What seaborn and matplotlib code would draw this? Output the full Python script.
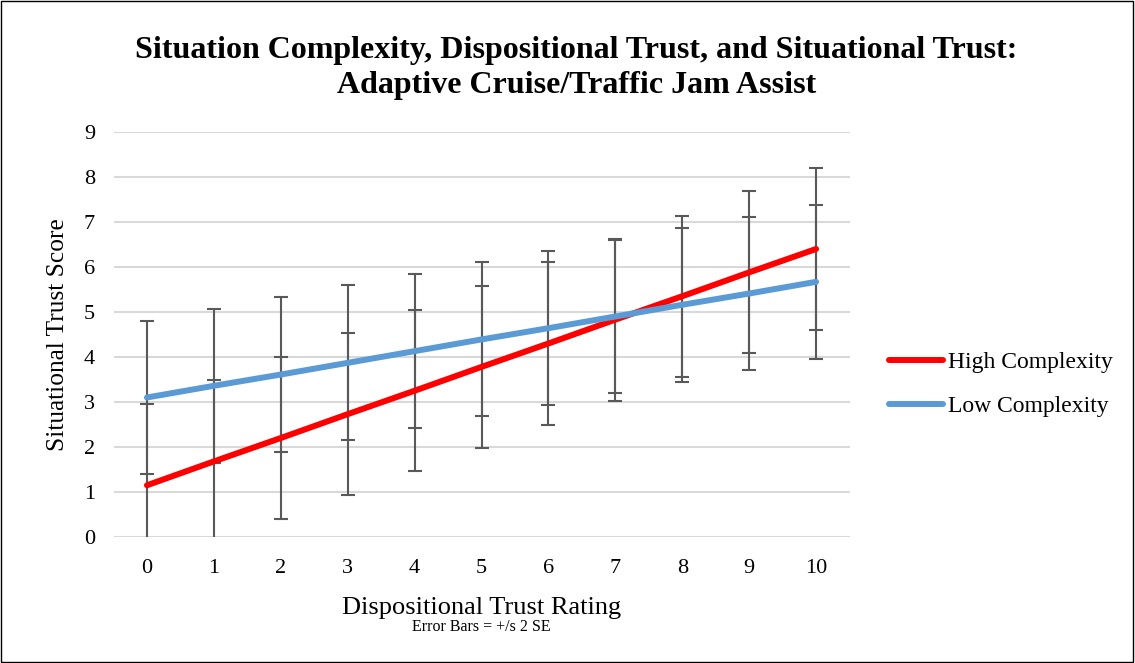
import numpy as np
import pandas as pd
import matplotlib
matplotlib.use("Agg")
import matplotlib.pyplot as plt
import seaborn as sns

# ---- data ----
ratings = [0, 1, 2, 3, 4, 5, 6, 7, 8, 9, 10]
high_complexity = [1.15, 1.68, 2.20, 2.73, 3.25, 3.78, 4.30, 4.83, 5.35, 5.88, 6.40]
low_complexity = [3.10, 3.36, 3.61, 3.87, 4.13, 4.39, 4.64, 4.90, 5.16, 5.41, 5.67]
high_err = [1.81, 1.80, 1.80, 1.80, 1.79, 1.80, 1.80, 1.80, 1.79, 1.80, 1.79]
low_err = [1.71, 1.71, 1.72, 1.72, 1.71, 1.71, 1.71, 1.71, 1.71, 1.71, 1.71]
series_names = ["High Complexity", "Low Complexity"]
y_ticks = [0, 1, 2, 3, 4, 5, 6, 7, 8, 9]

title = ("Situation Complexity, Dispositional Trust, and Situational Trust:\n"
         "Adaptive Cruise/Traffic Jam Assist")
x_label = "Dispositional Trust Rating"
y_label = "Situational Trust Score"
note = "Error Bars = +/s 2 SE"

df = pd.DataFrame({
    "rating": ratings * 2,
    "score": high_complexity + low_complexity,
    "series": [series_names[0]] * len(ratings) + [series_names[1]] * len(ratings),
})

sns.set_theme(style="white")
plt.rcParams["font.family"] = ["Liberation Serif", "DejaVu Serif"]
plt.rcParams["text.color"] = "black"
plt.rcParams["axes.labelcolor"] = "black"
plt.rcParams["xtick.color"] = "black"
plt.rcParams["ytick.color"] = "black"

fig = plt.figure(figsize=(11.35, 6.63), dpi=100)
ax = fig.add_axes([0.1, 0.19, 0.6485, 0.611])

colors = {series_names[0]: "#FF0000", series_names[1]: "#5B9BD5"}

# error bars (drawn beneath lines)
ax.errorbar(ratings, high_complexity, yerr=high_err, fmt="none",
            ecolor="#595959", elinewidth=1.5, capsize=4.7, capthick=1.5, zorder=2)
ax.errorbar(ratings, low_complexity, yerr=low_err, fmt="none",
            ecolor="#595959", elinewidth=1.5, capsize=4.7, capthick=1.5, zorder=2)

sns.lineplot(data=df, x="rating", y="score", hue="series", hue_order=series_names,
             palette=colors, linewidth=4.3, errorbar=None, ax=ax, zorder=3,
             solid_capstyle="round")

ax.set_xlim(-0.5, 10.5)
ax.set_ylim(0, 9)
ax.set_yticks(y_ticks)
ax.set_xticks(ratings)
ax.tick_params(axis="both", labelsize=16, length=0)
ax.tick_params(axis="y", pad=13.3)
ax.tick_params(axis="x", pad=15.8)
ax.yaxis.grid(True, color="#d9d9d9", linewidth=1.5)
ax.xaxis.grid(False)
for s in ax.spines.values():
    s.set_visible(False)
ax.set_axisbelow(True)

ax.set_xlabel(x_label, fontsize=19)
ax.set_ylabel(y_label, fontsize=18.3)
ax.xaxis.set_label_coords(0.5, -0.147)
ax.yaxis.set_label_coords(-0.060, 0.5)

ax.text(0.5, -0.222, note, ha="center", va="center", fontsize=11.5,
        transform=ax.transAxes)

fig.text(0.508, 0.897, title, ha="center", va="center", fontsize=23,
         fontweight="bold", linespacing=1.28)

handles, labels = ax.get_legend_handles_labels()
leg = ax.legend(handles, labels, loc="center left", bbox_to_anchor=(1.0537, 0.3765),
                frameon=False, fontsize=17, handlelength=2.3, handletextpad=0.2,
                labelspacing=0.95, borderaxespad=0, borderpad=0)

# outer border
fig.patches.append(plt.Rectangle((0.001, 0.002), 0.997, 0.996, transform=fig.transFigure,
                                 fill=False, edgecolor="black", linewidth=1.0))

fig.savefig("out.png", dpi=100)
